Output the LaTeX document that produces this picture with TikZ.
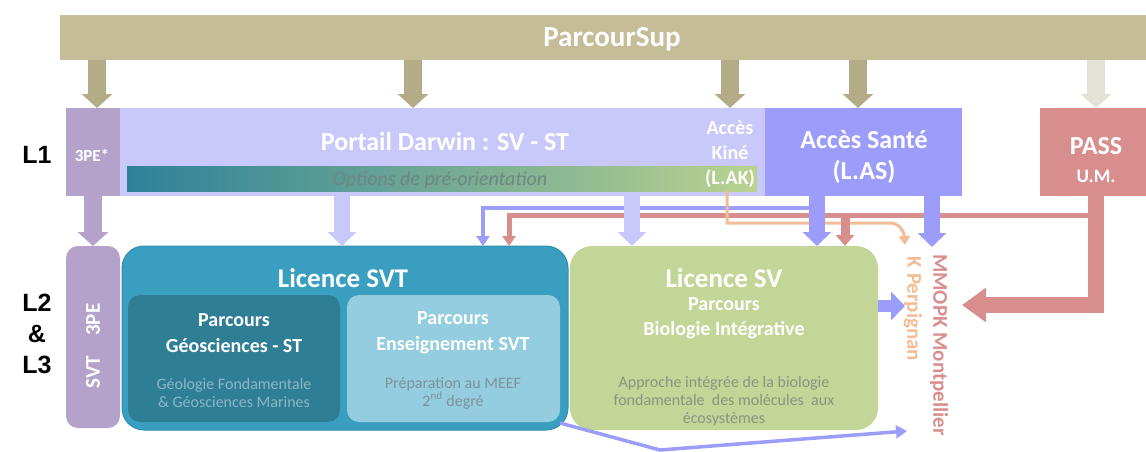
\documentclass[tikz,border=0pt]{standalone}
\usepackage{fontspec}
\setmainfont{Carlito}
\newfontfamily\arialf{Liberation Sans}
\usetikzlibrary{arrows.meta}
\definecolor{psC}{HTML}{C4BD98}
\definecolor{psA}{HTML}{B3AC86}
\definecolor{psL}{HTML}{E4E2D6}
\definecolor{peC}{HTML}{B5A2CB}
\definecolor{poC}{HTML}{C8C8FA}
\definecolor{lasC}{HTML}{9C9CFA}
\definecolor{passC}{HTML}{D98E8E}
\definecolor{svtC}{HTML}{3A9EC0}
\definecolor{svtD}{HTML}{2F8FB0}
\definecolor{geoC}{HTML}{2E7E96}
\definecolor{ensC}{HTML}{94CDE0}
\definecolor{svC}{HTML}{C3D697}
\definecolor{kpC}{HTML}{F3BC94}
\definecolor{gradL}{HTML}{2C8199}
\definecolor{gradR}{HTML}{BAD28F}
\definecolor{optT}{HTML}{6F8683}
\definecolor{geoT}{HTML}{8DB6C6}
\definecolor{ensT}{HTML}{7E9299}
\definecolor{svT}{HTML}{8A9480}
\tikzset{
  box/.style={inner sep=0pt, outer sep=0pt, draw=none},
  wb/.style={text=white, inner sep=0pt, align=center, font=\bfseries\fontsize{#1}{#1}\selectfont},
  wbl/.style 2 args={text=white, inner sep=0pt, align=center, font=\bfseries\fontsize{#1}{#2}\selectfont},
  gt/.style={inner sep=0pt, align=center, font=\fontsize{16}{18}\selectfont},
  lvl/.style={inner sep=0pt, font=\arialf\bfseries\fontsize{25}{25}\selectfont},
  psarrow/.style={line width=18pt, -{Triangle[width=30pt,length=14pt]}},
  medarrow/.style={line width=16pt, -{Triangle[width=28pt,length=14pt]}},
  thinarrow/.style={line width=#1, -{Triangle[width=13pt,length=10pt]}},
}
\begin{document}
\begin{tikzpicture}[x=1pt,y=-1pt]
\useasboundingbox (0,0) rectangle (1146,452);
% ---- top bar
\node[box, fill=psC, minimum width=1086pt, minimum height=45pt] (ps) at (603,37.5) {};
\node[wb=29] (pst) at (612,39) {ParcourSup};
% ---- L1 row
\node[box, fill=peC, minimum width=54pt, minimum height=88pt] (pe) at (93,152) {};
\node[wb=17] (pet) at (92,155) {3PE*};
\node[box, fill=poC, minimum width=645pt, minimum height=88pt] (portail) at (442.5,152) {};
\node[box, left color=gradL, right color=gradR, minimum width=630pt, minimum height=25pt] (opt) at (442,178.5) {};
\node[inner sep=0pt, text=optT, font=\itshape\fontsize{20}{20}\selectfont] (optt) at (440,180) {Options de pré-orientation};
\node[wb=26] (portt) at (445,141) {Portail Darwin : SV - ST};
\node[wbl={20}{25}] (lak) at (730,154) {Accès\\Kiné\\(L.AK)};
\node[box, fill=lasC, minimum width=197pt, minimum height=88pt] (las) at (863.5,152) {};
\node[wbl={26}{31}] (last) at (864,157) {Accès Santé\\(L.AS)};
\node[box, fill=passC, minimum width=106pt, minimum height=88pt] (pass) at (1093,152) {};
\node[wb=26] (passt) at (1096,146) {PASS};
\node[wb=19] (umt) at (1096,176) {U.M.};
% ---- level labels
\node[lvl] (l1) at (37,155) {L1};
\node[lvl, align=center, font=\arialf\bfseries\fontsize{25}{31}\selectfont] (l23) at (37,334) {L2\\\&\\L3};
% ---- L2/L3 row
\node[box, fill=peC, rounded corners=12pt, minimum width=54pt, minimum height=182pt] (svtpe) at (93,337) {};
\node[wb=21, rotate=90] (svtpet) at (93,346) {SVT\hspace{20pt}3PE};
\node[box, fill=svtC, draw=svtD, line width=1pt, rounded corners=22pt, minimum width=446pt, minimum height=184pt] (svt) at (345,338) {};
\node[wb=27] (svtt) at (343,278) {Licence SVT};
\node[box, fill=geoC, rounded corners=12pt, minimum width=212pt, minimum height=127pt] (geo) at (234,358.5) {};
\node[wbl={20}{26}] (geot) at (234,333) {Parcours\\Géosciences - ST};
\node[gt, text=geoT] (geog) at (234,393) {Géologie Fondamentale\\\& Géosciences Marines};
\node[box, fill=ensC, rounded corners=12pt, minimum width=213pt, minimum height=127pt] (ens) at (453.5,358.5) {};
\node[wbl={20}{26}] (enst) at (453,333) {Parcours\\Enseignement SVT};
\node[gt, text=ensT] (ensg) at (453,393) {Préparation au MEEF\\2\textsuperscript{nd} degré};
\node[box, fill=svC, rounded corners=22pt, minimum width=308pt, minimum height=184pt] (sv) at (724,338) {};
\node[wb=27] (svtitle) at (724,278) {Licence SV};
\node[wbl={20}{25}] (svp) at (724,318) {Parcours\\Biologie Intégrative};
\node[gt, text=svT] (svg) at (724,401) {Approche intégrée de la biologie\\fondamentale\ \ des molécules\ \ aux\\écosystèmes};
\node[inner sep=0pt, rotate=-90, text=kpC, font=\bfseries\fontsize{21}{21}\selectfont] (kp) at (913,309) {K Perpignan};
\node[inner sep=0pt, rotate=-90, text=passC, font=\bfseries\fontsize{21}{21}\selectfont] (mm) at (939,345) {MMOPK Montpellier};
% ---- helper coordinates
\coordinate (bj) at (817,208);
\coordinate (rj) at (1096,215);
\coordinate (rb) at (845,215);
\coordinate (oc) at (890,223);
\coordinate (otip) at (905,245);
\coordinate (mmtop) at (932,247);
\coordinate (passtip) at (962,305);
\coordinate (kptip) at (905,306);
\coordinate (bend) at (660,450);
\coordinate (btip) at (907,431);
% ---- ParcourSup arrows
\draw[psarrow, draw=psA] (ps.south -| 97,0) -- (pe.north -| 97,0);
\draw[psarrow, draw=psA] (ps.south -| 413,0) -- (portail.north -| 413,0);
\draw[psarrow, draw=psA] (ps.south -| 730,0) -- (portail.north -| 730,0);
\draw[psarrow, draw=psA] (ps.south -| 858,0) -- (las.north -| 858,0);
\draw[psarrow, draw=psL] (ps.south -| 1096,0) -- (pass.north -| 1096,0);
% ---- L1 -> L2 arrows
\draw[psarrow, draw=peC] (pe.south) -- (svtpe.north);
\draw[thinarrow=4pt, draw=lasC] (bj) -| (svt.north -| 483,0);
\draw[thinarrow=5pt, draw=passC] (rj) -| (svt.north -| 509,0);
\draw[medarrow, draw=poC] (portail.south -| 342,0) -- (svt.north -| 342,0);
\draw[medarrow, draw=poC] (portail.south -| 632,0) -- (sv.north -| 632,0);
\draw[line width=3pt, draw=kpC, -{Triangle[width=11pt,length=9pt]}] (opt.south -| 727,0) |- (oc) .. controls (899,223) and (904,231) .. (otip);
\draw[medarrow, draw=lasC] (las.south -| 817,0) -- (sv.north -| 817,0);
\draw[line width=9pt, draw=passC, -{Triangle[width=18pt,length=11pt]}] (rb) -- (sv.north -| 845,0);
\draw[medarrow, draw=lasC] (las.south -| 932,0) -- (mmtop);
% ---- right side arrows
\draw[line width=16pt, draw=passC, -{Triangle[width=33pt,length=24pt]}] (pass.south -| 1096,0) |- (passtip);
\draw[line width=12pt, draw=lasC, -{Triangle[width=28pt,length=14pt]}] (sv.east |- 0,306) -- (kptip);
\draw[line width=3.5pt, draw=lasC, -{Triangle[width=13pt,length=11pt]}] ([xshift=-8pt,yshift=7pt]svt.south east) -- (bend) -- (btip);
\end{tikzpicture}
\end{document}
